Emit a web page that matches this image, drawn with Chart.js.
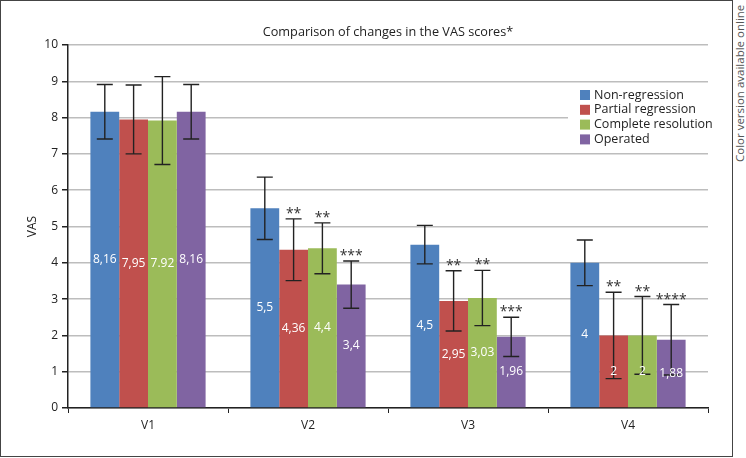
<!DOCTYPE html>
<html>
<head>
<meta charset="utf-8">
<script src="https://cdn.jsdelivr.net/npm/chart.js@4.4.1/dist/chart.umd.min.js"></script>
<style>
  body { margin: 0; background: #fff; font-family: 'Open Sans', sans-serif; }
  #frame { position: absolute; left: 0; top: 0; width: 731px; height: 455px; border: 1px solid #444; }
  #side-note { position: absolute; left: 734px; top: 162px; transform-origin: 0 0; transform: rotate(-90deg);
    font-size: 11.5px; line-height: 12px; color: #555; white-space: nowrap; }
</style>
</head>
<body>
<div id="frame"><canvas id="vas-chart" width="731" height="455"></canvas></div>
<div id="side-note">Color version available online</div>
<script>
const categories = ['V1', 'V2', 'V3', 'V4'];
const seriesNames = ['Non-regression', 'Partial regression', 'Complete resolution', 'Operated'];
const seriesColors = ['#4f81bd', '#c0504d', '#9bbb59', '#8064a2'];

const nonRegression = [8.16, 5.5, 4.5, 4];
const partialRegression = [7.95, 4.36, 2.95, 2];
const completeResolution = [7.92, 4.4, 3.03, 2];
const operated = [8.16, 3.4, 1.96, 1.88];

// error bar half widths
const nonRegressionErr = [0.75, 0.86, 0.53, 0.63];
const partialRegressionErr = [0.95, 0.85, 0.83, 1.19];
const completeResolutionErr = [1.21, 0.7, 0.76, 1.07];
const operatedErr = [0.75, 0.65, 0.54, 0.97];

const nonRegressionText = ['8,16', '5,5', '4,5', '4'];
const partialRegressionText = ['7,95', '4,36', '2,95', '2'];
const completeResolutionText = ['7.92', '4,4', '3,03', '2'];
const operatedText = ['8,16', '3,4', '1,96', '1,88'];

const nonRegressionStars = ['', '', '', ''];
const partialRegressionStars = ['', '**', '**', '**'];
const completeResolutionStars = ['', '**', '**', '**'];
const operatedStars = ['', '***', '***', '****'];

const yTicks = [0, 1, 2, 3, 4, 5, 6, 7, 8, 9, 10];
const titleText = 'Comparison of changes in the VAS scores*';

Chart.defaults.font.family = "'Open Sans', sans-serif";
Chart.defaults.color = '#222';

const values = [nonRegression, partialRegression, completeResolution, operated];
const errors = [nonRegressionErr, partialRegressionErr, completeResolutionErr, operatedErr];
const texts = [nonRegressionText, partialRegressionText, completeResolutionText, operatedText];
const stars = [nonRegressionStars, partialRegressionStars, completeResolutionStars, operatedStars];

const errorBarPlugin = {
    id: 'errorBars',
    afterDatasetsDraw(chart) {
        const ctx = chart.ctx;
        const y = chart.scales.y;
        ctx.save();
        chart.data.datasets.forEach((ds, i) => {
            const meta = chart.getDatasetMeta(i);
            meta.data.forEach((bar, j) => {
                const v = ds.data[j];
                const e = errors[i][j];
                const top = y.getPixelForValue(v + e);
                const bot = y.getPixelForValue(v - e);
                ctx.strokeStyle = '#222';
                ctx.lineWidth = 1.4;
                ctx.beginPath();
                ctx.moveTo(bar.x, top); ctx.lineTo(bar.x, bot);
                ctx.moveTo(bar.x - 8, top); ctx.lineTo(bar.x + 8, top);
                ctx.moveTo(bar.x - 8, bot); ctx.lineTo(bar.x + 8, bot);
                ctx.stroke();

                ctx.fillStyle = '#fff';
                ctx.font = "12px 'Open Sans'";
                ctx.textAlign = 'center';
                ctx.textBaseline = 'middle';
                ctx.fillText(texts[i][j], bar.x, (bar.y + bar.base) / 2);

                if (stars[i][j]) {
                    ctx.fillStyle = '#333';
                    ctx.font = "14px 'Open Sans'";
                    ctx.textBaseline = 'alphabetic';
                    ctx.fillText(stars[i][j], bar.x, top - 1);
                }
            });
        });
        ctx.restore();
    }
};

const titleAndLegendPlugin = {
    id: 'boxLegend',
    afterDraw(chart) {
        const ctx = chart.ctx;
        const area = chart.chartArea;
        ctx.save();
        ctx.fillStyle = '#222';
        ctx.font = "12.7px 'Open Sans'";
        ctx.textAlign = 'center';
        ctx.textBaseline = 'middle';
        ctx.fillText(titleText, (area.left + area.right) / 2, 31);

        ctx.fillStyle = '#fff';
        ctx.fillRect(567, 87, 140, 59);
        chart.data.datasets.forEach((ds, i) => {
            const rowY = 94 + i * 14.8;
            ctx.fillStyle = ds.backgroundColor;
            ctx.fillRect(579, rowY - 5, 10, 10);
            ctx.fillStyle = '#222';
            ctx.font = "12.5px 'Open Sans'";
            ctx.textAlign = 'left';
            ctx.textBaseline = 'middle';
            ctx.fillText(ds.label, 593, rowY);
        });
        ctx.restore();
    }
};

const data = {
    labels: categories,
    datasets: values.map((vals, i) => ({
        label: seriesNames[i],
        data: vals,
        backgroundColor: seriesColors[i],
        borderWidth: 0,
        categoryPercentage: 0.72,
        barPercentage: 1
    }))
};

const config = {
    type: 'bar',
    data: data,
    options: {
        responsive: false,
        animation: false,
        layout: { padding: { left: 0, right: 24, top: 44, bottom: 0 } },
        plugins: {
            legend: { display: false },
            tooltip: { enabled: false },
            title: { display: false }
        },
        scales: {
            x: {
                afterFit(scale) { scale.height = 48; },
                grid: { drawOnChartArea: false, drawTicks: true, tickLength: 5, tickColor: '#222', offset: true },
                border: { color: '#222', width: 1.5 },
                ticks: { font: { size: 12 }, color: '#222', padding: 5 }
            },
            y: {
                min: 0,
                max: 10,
                afterFit(scale) { scale.width = 67; },
                afterBuildTicks(scale) { scale.ticks = yTicks.map(v => ({ value: v })); },
                grid: { color: '#bdbdbd', lineWidth: 1.5, tickLength: 6, tickColor: '#222' },
                border: { color: '#222', width: 1.5 },
                ticks: { font: { size: 12 }, color: '#222', padding: 4 },
                title: { display: true, text: 'VAS', font: { size: 12 }, color: '#222', padding: { top: 24, bottom: 0 } }
            }
        }
    },
    plugins: [errorBarPlugin, titleAndLegendPlugin]
};

window.vasChart = new Chart(document.getElementById('vas-chart').getContext('2d'), config);
</script>
</body>
</html>
